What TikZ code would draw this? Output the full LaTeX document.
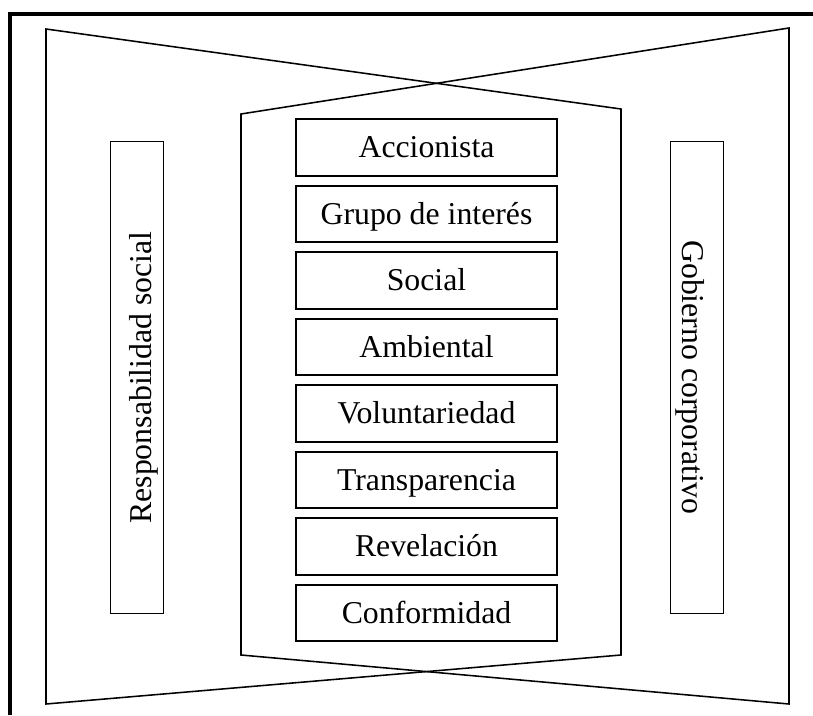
\documentclass[tikz,border=0pt]{standalone}
\usepackage{fontspec}
\setmainfont{Liberation Serif}
\usetikzlibrary{positioning}
\tikzset{
	itembox/.style={draw, line width=1.4pt, minimum width=6.5cm, minimum height=1.42cm,
		inner sep=0pt, text height=14.9pt, text depth=0pt,
		font=\fontsize{22.6}{27}\selectfont},
	sidebox/.style={draw, line width=0.7pt, minimum width=11.775cm, minimum height=1.325cm,
		inner sep=0pt, text height=21pt, text depth=0pt,
		font=\fontsize{22.6}{27}\selectfont},
	funnel/.style={line width=1.1pt, line join=miter}
}

\begin{document}
\begin{tikzpicture}[x=0.025cm, y=-0.025cm]
\useasboundingbox (0,0) rectangle (813,715);

% frame
\draw[line width=3.5pt] (10,715) -- (10,14) -- (813,14);

% corners of the two crossed trapezoids
\coordinate (olt) at (46,29);
\coordinate (olb) at (46,704);
\coordinate (ort) at (789,28);
\coordinate (orb) at (789,704);
\coordinate (ilt) at (241,114);
\coordinate (ilb) at (241,655);
\coordinate (irt) at (621,109);
\coordinate (irb) at (621,655);

\draw[funnel] (olt) -- (irt) -- (irb) -- (olb) -- cycle;
\draw[funnel] (ilt) -- (ort) -- (orb) -- (ilb) -- cycle;

% side labels
\node[sidebox, rotate=90] (rs) at (136.5,377.5) {Responsabilidad social};
\node[sidebox, rotate=-90] (gc) at (697,377.5) {Gobierno corporativo};

% central column
\foreach \txt [count=\i] in {Accionista, Grupo de interés, Social, Ambiental,
	Voluntariedad, Transparencia, Revelación, Conformidad}
{
	\node[itembox] (item\i) at (426.5, 147.5 + 66.5*\i - 66.5) {\txt};
}

\end{tikzpicture}
\end{document}
